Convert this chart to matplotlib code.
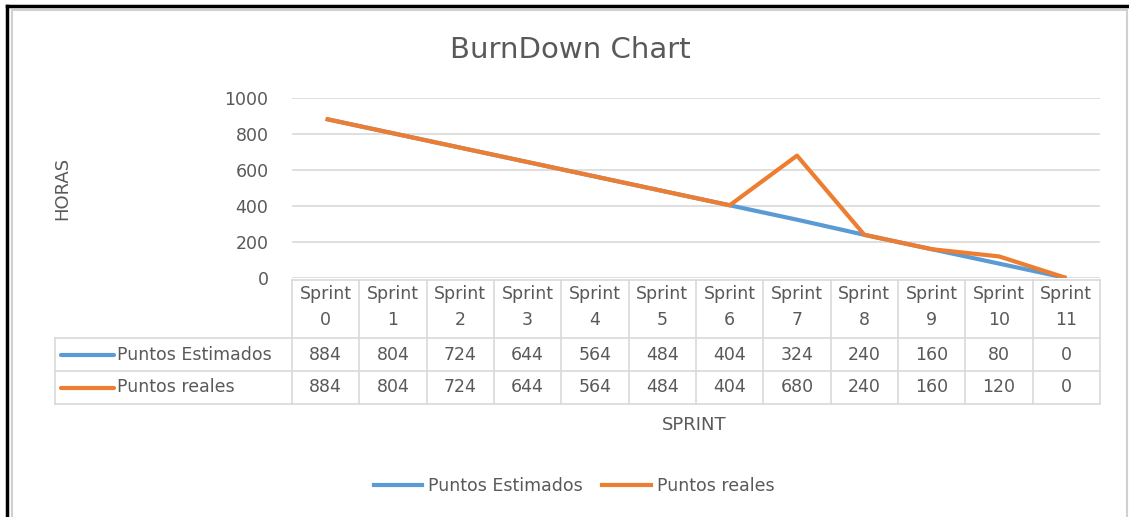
import matplotlib
matplotlib.use("Agg")
import matplotlib.pyplot as plt
from matplotlib.lines import Line2D
from matplotlib.patches import Rectangle
from matplotlib.transforms import blended_transform_factory

categories = ["Sprint\n0", "Sprint\n1", "Sprint\n2", "Sprint\n3", "Sprint\n4", "Sprint\n5",
              "Sprint\n6", "Sprint\n7", "Sprint\n8", "Sprint\n9", "Sprint\n10", "Sprint\n11"]
estimados = [884, 804, 724, 644, 564, 484, 404, 324, 240, 160, 80, 0]
reales = [884, 804, 724, 644, 564, 484, 404, 680, 240, 160, 120, 0]
series_names = ["Puntos Estimados", "Puntos reales"]
yticks = [0, 200, 400, 600, 800, 1000]

BLUE = "#5B9BD5"
ORANGE = "#ED7D31"
TXT = "#595959"
GRID = "#D9D9D9"

plt.rcParams['font.family'] = ['DejaVu Sans']
FS = 12.5

W, H = 1129, 517
fig = plt.figure(figsize=(W / 100, H / 100), dpi=100)

def fx(px):
    return px / W

def fy(py):
    return 1 - py / H

ax_l, ax_r, ax_t, ax_b = 292, 1100, 98, 278
ax = fig.add_axes([fx(ax_l), fy(ax_b), fx(ax_r - ax_l), (ax_b - ax_t) / H])
n = len(categories)
x = list(range(n))
ax.plot(x, estimados, color=BLUE, lw=3.0, solid_capstyle='butt', zorder=3)
ax.plot(x, reales, color=ORANGE, lw=3.0, solid_capstyle='butt', zorder=4)
ax.set_xlim(-0.5, n - 0.5)
ax.set_ylim(0, 1000)
ax.set_yticks(yticks)
ax.set_yticklabels([str(v) for v in yticks])
ax.tick_params(axis='y', length=0, pad=17, labelcolor=TXT, labelsize=FS)
ax.set_xticks([])
for s in ax.spines.values():
    s.set_visible(False)
ax.grid(axis='y', color=GRID, lw=1.2)
ax.set_axisbelow(True)

# Data table
col_w_px = (ax_r - ax_l) / n
tr = blended_transform_factory(ax.transData, ax.transAxes)
def ay(py):
    return (ax_b - py) / (ax_b - ax_t)
def dx(px):
    return -0.5 + (px - ax_l) / col_w_px

y_head_top, y_head_bot, y_r1_bot, y_r2_bot = 280, 338, 371, 404
left_px = 55
tbl_kw = dict(color=GRID, lw=1.2, transform=tr, clip_on=False)
ax.add_line(Line2D([-0.5, n - 0.5], [ay(y_head_top)] * 2, **tbl_kw))
for yy in (y_head_bot, y_r1_bot, y_r2_bot):
    ax.add_line(Line2D([dx(left_px), n - 0.5], [ay(yy)] * 2, **tbl_kw))
for i in range(n + 1):
    ax.add_line(Line2D([i - 0.5] * 2, [ay(y_head_top), ay(y_r2_bot)], **tbl_kw))
ax.add_line(Line2D([dx(left_px)] * 2, [ay(y_head_bot), ay(y_r2_bot)], **tbl_kw))

for i, c in enumerate(categories):
    ax.text(i, ay(307), c, transform=tr, ha='center', va='center',
            fontsize=FS, color=TXT, linespacing=1.55, clip_on=False)
rows = [(y_head_bot, y_r1_bot, estimados, BLUE, series_names[0]),
        (y_r1_bot, y_r2_bot, reales, ORANGE, series_names[1])]
for top, bot, vals, col, name in rows:
    yc = ay((top + bot) / 2)
    for i, v in enumerate(vals):
        ax.text(i, yc, str(v), transform=tr, ha='center', va='center', fontsize=FS,
                color=TXT, clip_on=False)
    ax.add_line(Line2D([dx(61), dx(114)], [yc, yc], color=col, lw=3.0, transform=tr,
                       clip_on=False, solid_capstyle='round'))
    ax.text(dx(117), yc, name, transform=tr, ha='left', va='center', fontsize=FS,
            color=TXT, clip_on=False)

# Titles
fig.text(fx(570), fy(50), "BurnDown Chart", ha='center', va='center', fontsize=21, color=TXT)
fig.text(fx(694), fy(425), "SPRINT", ha='center', va='center', fontsize=13, color=TXT)
fig.text(fx(62), fy(188), "HORAS", ha='center', va='center', fontsize=13, color=TXT, rotation=90)

# Legend
handles = [Line2D([], [], color=BLUE, lw=3.0), Line2D([], [], color=ORANGE, lw=3.0)]
leg = fig.legend(handles, series_names, loc='center', bbox_to_anchor=(fx(574), fy(486)),
                 ncol=2, frameon=False, fontsize=FS, handlelength=2.8, handletextpad=0.35,
                 columnspacing=1.1, labelcolor=TXT)

# Borders
fig.add_artist(Rectangle((fx(12), fy(530)), fx(1127 - 12), (530 - 10) / H, transform=fig.transFigure,
                         fill=False, edgecolor="#D0D0D0", lw=1.5))
fig.add_artist(Line2D([fx(7), fx(7)], [0, fy(6)], transform=fig.transFigure, color='black', lw=2.5))
fig.add_artist(Line2D([fx(7), 1], [fy(6), fy(6)], transform=fig.transFigure, color='black', lw=2.5))

fig.savefig("out.png", dpi=100)
